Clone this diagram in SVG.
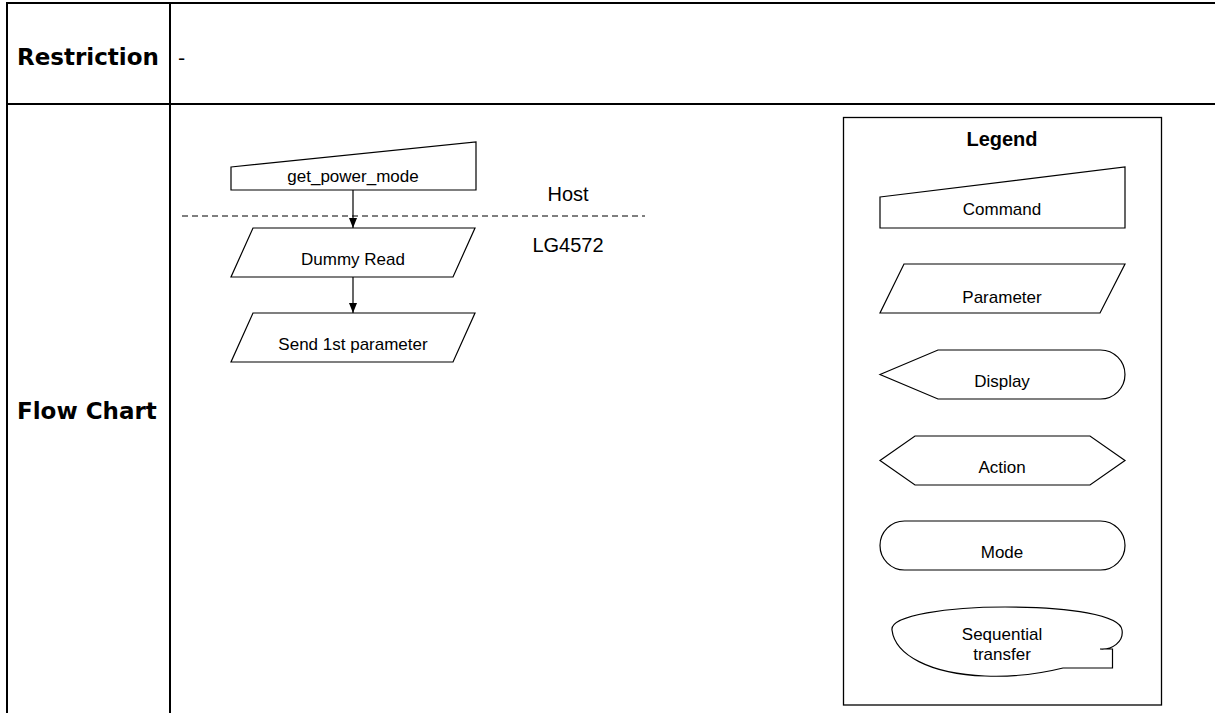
<svg xmlns="http://www.w3.org/2000/svg" width="1215" height="713" viewBox="0 0 1215 713">
<style>
.tbl{stroke:#000;stroke-width:2;fill:none}
.hdr{font-family:"DejaVu Sans",sans-serif;font-weight:bold;font-size:23px;fill:#000}
.shape{fill:#fff;stroke:#000;stroke-width:1.2}
.lbl{font-family:"Liberation Sans",Arial,sans-serif;font-size:17px;fill:#000;text-anchor:middle}
.big{font-family:"Liberation Sans",Arial,sans-serif;font-size:20px;fill:#000;text-anchor:middle}
.conn{stroke:#000;stroke-width:1.2;fill:none}
</style>
<defs>
<marker id="ah" viewBox="0 0 10 8" refX="10" refY="4" markerWidth="10" markerHeight="8" markerUnits="userSpaceOnUse" orient="auto">
<path d="M0,0 L10,4 L0,8 Z" fill="#000"/>
</marker>
</defs>
<rect width="1215" height="713" fill="#fff"/>
<g id="table">
<line class="tbl" x1="7" y1="3" x2="1215" y2="3"/>
<line class="tbl" x1="7" y1="104" x2="1215" y2="104"/>
<line class="tbl" x1="7" y1="2" x2="7" y2="713"/>
<line class="tbl" x1="170" y1="2" x2="170" y2="713"/>
<text class="hdr" x="17" y="65">Restriction</text>
<text x="178" y="65" font-family="DejaVu Sans,sans-serif" font-size="20">-</text>
<text class="hdr" x="17" y="419">Flow Chart</text>
</g>
<g id="divider">
<line x1="182" y1="216" x2="645" y2="216" stroke="#000" stroke-width="1.2" stroke-dasharray="6,4"/>
<text class="big" x="568" y="201">Host</text>
<text class="big" x="568" y="252">LG4572</text>
</g>
<g id="connectors">
<line class="conn" x1="353" y1="190" x2="353" y2="228" marker-end="url(#ah)"/>
<line class="conn" x1="353" y1="277" x2="353" y2="313" marker-end="url(#ah)"/>
</g>
<g id="node-get-power-mode">
<polygon class="shape" points="231,167 476,142 476,190 231,190"/>
<text class="lbl" x="353" y="182">get_power_mode</text>
</g>
<g id="node-dummy-read">
<polygon class="shape" points="253,228 475,228 453,277 231,277"/>
<text class="lbl" x="353" y="265">Dummy Read</text>
</g>
<g id="node-send-1st">
<polygon class="shape" points="253,313 475,313 453,362 231,362"/>
<text class="lbl" x="353" y="350">Send 1st parameter</text>
</g>
<g id="legend">
<rect x="843.5" y="117.5" width="318" height="587.5" fill="none" stroke="#000" stroke-width="1.3"/>
<text x="1002" y="146" font-family="Liberation Sans,Arial,sans-serif" font-weight="bold" font-size="20" text-anchor="middle">Legend</text>
<g id="legend-command">
<polygon class="shape" points="880,197 1125,167 1125,228 880,228"/>
<text class="lbl" x="1002" y="215">Command</text>
</g>
<g id="legend-parameter">
<polygon class="shape" points="904,264 1125,264 1100,313 880,313"/>
<text class="lbl" x="1002" y="303">Parameter</text>
</g>
<g id="legend-display">
<path class="shape" d="M880,374.5 L938,350 L1100.5,350 A24.5,24.5 0 0 1 1100.5,399 L938,399 Z"/>
<text class="lbl" x="1002" y="387">Display</text>
</g>
<g id="legend-action">
<polygon class="shape" points="880,460.5 915,436 1090,436 1125,460.5 1090,485 915,485"/>
<text class="lbl" x="1002" y="473">Action</text>
</g>
<g id="legend-mode">
<rect class="shape" x="880" y="521" width="245" height="49" rx="24.5" ry="24.5"/>
<text class="lbl" x="1002" y="558">Mode</text>
</g>
<g id="legend-sequential">
<path class="shape" d="M1063,668 C1035,675 1010,677 985,676 C930,674 895,655 892,630 C890,615 950,607 1005,607 C1070,607 1120,615 1122,630 C1124,642 1112,650 1100,649 L1112.5,649 L1112.5,668 Z"/>
<text class="lbl" x="1002" y="640">Sequential</text>
<text class="lbl" x="1002" y="660">transfer</text>
</g>
</g>
</svg>
